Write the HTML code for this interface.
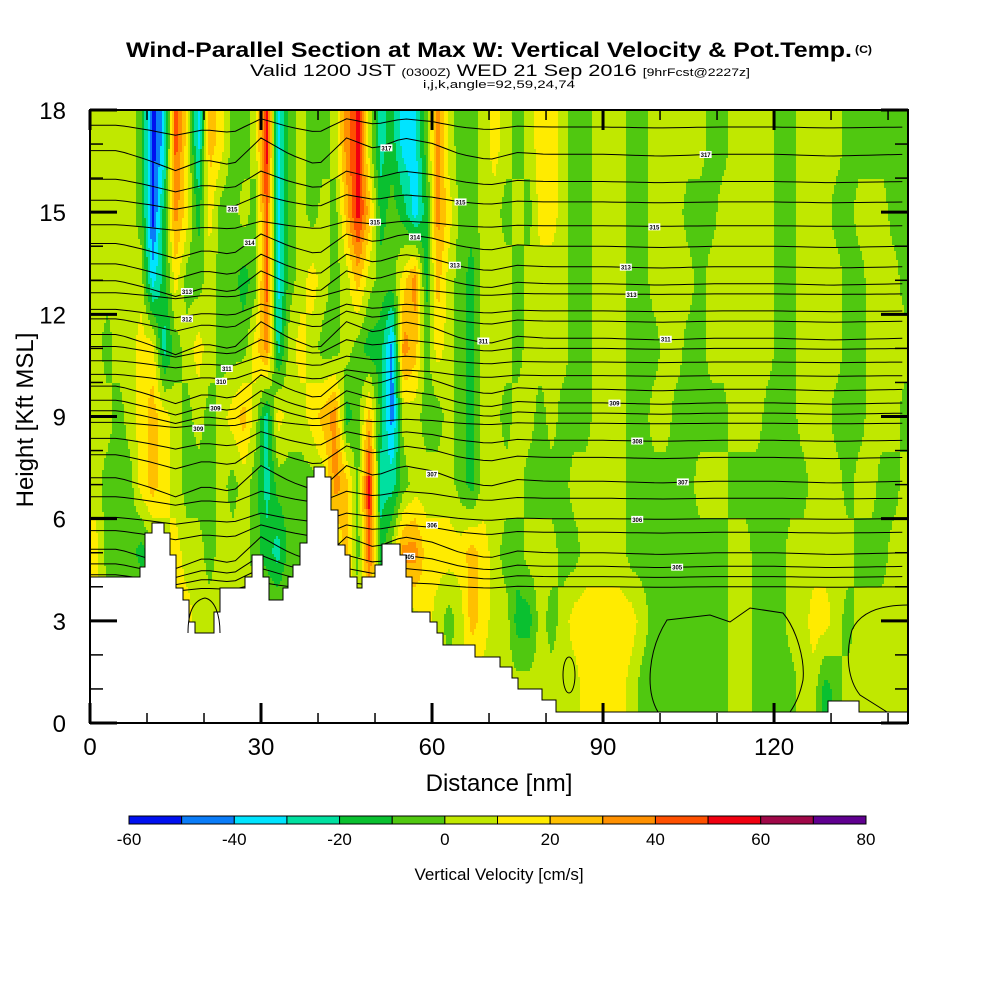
<!DOCTYPE html>
<html><head><meta charset="utf-8"><style>
html,body{margin:0;padding:0;background:#fff;}
svg{display:block;font-family:"Liberation Sans",sans-serif;}
</style></head><body>
<svg id="chart" width="1000" height="1000" viewBox="0 0 1000 1000" xmlns="http://www.w3.org/2000/svg">
<g>
<text x="126" y="57" font-size="21" font-weight="bold" textLength="726" lengthAdjust="spacingAndGlyphs">Wind-Parallel Section at Max W: Vertical Velocity &amp; Pot.Temp.</text>
<text x="855" y="53" font-size="11" font-weight="bold" textLength="17" lengthAdjust="spacingAndGlyphs">(C)</text>
<text x="250" y="76" font-size="17" textLength="500" lengthAdjust="spacingAndGlyphs">Valid 1200 JST <tspan font-size="11">(0300Z)</tspan> WED 21 Sep 2016 <tspan font-size="11">[9hrFcst@2227z]</tspan></text>
<text x="423" y="88" font-size="11" textLength="152" lengthAdjust="spacingAndGlyphs">i,j,k,angle=92,59,24,74</text>
</g>
<g id="heat"></g>
<g id="theta" fill="none" stroke="#000" stroke-width="1"></g>
<path fill="#fff" stroke="#000" stroke-width="1" d="M90,577 L140,577 L140,567 L145,567 L145,533 L152,533 L152,523 L164,523 L164,533 L170,533 L170,555 L176,555 L176,588 L183,588 L183,600 L189,600 L189,622 L195,622 L195,633 L214,633 L214,612 L220,612 L220,588 L245,588 L245,577 L252,577 L252,555 L263,555 L263,577 L269,577 L269,600 L283,600 L283,588 L288,588 L288,577 L293,577 L293,565 L300,565 L300,543 L307,543 L307,477 L314,477 L314,467 L325,467 L325,477 L331,477 L331,510 L338,510 L338,545 L345,545 L345,555 L350,555 L350,577 L357,577 L357,588 L362,588 L362,577 L375,577 L375,565 L382,565 L382,544 L400,544 L400,555 L406,555 L406,577 L412,577 L412,612 L430,612 L430,622 L437,622 L437,633 L443,633 L443,645 L475,645 L475,657 L500,657 L500,667 L512,667 L512,678 L518,678 L518,689 L542,689 L542,700 L556,700 L556,712 L828,712 L828,701 L859,701 L859,712 L908,712 L908,723 L90,723 Z"/>
<g fill="none" stroke="#000" stroke-width="1">
<path d="M658,712 C645,690 648,650 667,620 L710,615 L730,622 L750,608 L783,613 C797,630 805,660 803,680 C800,695 795,705 790,712"/>
<ellipse cx="569" cy="675" rx="6" ry="18"/>
<path d="M908,605 C880,605 860,612 852,630 C845,655 848,680 860,695 L887,712"/>
<path d="M188,633 C188,610 195,600 205,598 C215,600 220,615 220,633"/>
</g>
<g id="axes"></g>
<rect x="90" y="110" width="818" height="613" fill="none" stroke="#000" stroke-width="2"/>
<text x="499" y="791" font-size="24" text-anchor="middle">Distance [nm]</text>
<text x="0" y="0" font-size="24" text-anchor="middle" transform="translate(33,420) rotate(-90)">Height [Kft MSL]</text>
<g id="cbar"></g>
<text x="499" y="880" font-size="17" text-anchor="middle">Vertical Velocity [cm/s]</text>
</svg>
<script>
// ---- data ----
const xDomain = [0, 143.5];          // nm
const yDomain = [0, 18];             // kft
const colNm = 2;                     // column width (nm)
const rowCentersKft = [17, 15, 13, 11, 9, 7, 5, 3, 1];
const w17 = [5,5,5,5,-5,-55,-35,45,15,-35,25,15,-5,-5,5,55,-35,-5,5,-5,-5,5,35,55,5,-25,-15,-35,-35,-5,35,5,-5,-5,5,15,5,-5,5,15,15,5,-5,-5,5,5,5,-5,-5,5,5,5,5,5,-5,-5,5,5,5,5,-5,-5,5,5,5,5,-5,-5,-5,-5,-5,-5];
const w15 = [5,5,5,5,-5,-55,-15,35,15,-15,15,-5,-5,5,-5,45,-35,-5,5,-5,5,-5,25,55,25,-15,-5,-15,-35,-15,35,15,-5,-5,5,5,-5,5,-5,15,15,5,-5,-5,5,5,5,-5,-5,5,5,5,-5,-5,-5,5,5,5,5,5,-5,-5,5,5,5,-5,-5,5,5,5,-5,-5];
const w13 = [5,5,5,5,5,-35,-15,15,-5,-5,5,-5,-5,-15,-5,45,-35,-5,5,15,5,-5,5,25,5,-5,-5,15,35,-15,25,5,-5,-15,5,5,5,-5,5,5,5,5,-5,-5,5,5,5,-5,-5,5,5,5,5,-5,5,5,5,5,5,5,-5,-5,5,5,5,5,-5,-5,5,5,5,-5];
const w11 = [5,-5,5,5,15,15,-25,-5,5,15,5,-5,-5,-5,15,35,-25,5,15,5,-5,-5,5,-5,-15,-15,-45,35,25,-5,15,5,-5,-15,5,5,5,-5,5,5,5,5,-5,-5,5,5,5,-5,-5,-5,5,5,-5,-5,5,5,5,5,5,5,-5,-5,5,5,5,5,-5,-5,5,5,5,5];
const w9  = [5,5,-5,5,15,25,15,5,-5,5,-5,5,15,25,5,-25,15,5,5,15,25,35,-15,-5,25,-15,-45,5,5,-5,-5,5,-5,-15,5,5,-5,5,5,-5,5,-5,-5,-5,5,5,5,-5,-5,5,5,-5,-5,-5,-5,-5,5,5,5,-5,-5,-5,5,5,5,-5,-5,-5,5,5,5,-5];
const w7  = [5,-5,-5,-5,15,25,15,5,-5,-5,-5,5,-5,5,-5,-25,-5,-5,-5,-5,5,35,25,-5,55,-25,-25,-5,5,5,5,5,-5,-15,5,5,5,5,-5,-5,-5,-5,5,5,5,5,5,-5,-5,-5,-5,-5,-5,5,5,5,-5,-5,-5,-5,-5,-5,-5,5,5,5,-5,5,5,-5,-5,5];
const w5  = [15,-5,-5,-5,-15,-5,5,15,5,5,-5,5,5,5,-5,-15,-25,-5,-5,-5,5,5,25,-5,45,-15,5,35,35,15,15,15,15,25,15,5,-5,-5,5,5,5,-5,-5,5,5,5,5,-5,-5,-5,-5,-5,-5,-5,-5,-5,5,5,-5,-5,-5,5,5,5,5,5,5,-5,-5,-5,5,5];
const w3  = [5,5,5,5,5,5,5,15,15,5,5,5,5,5,5,5,5,5,5,5,5,5,5,5,5,5,5,5,5,15,5,-5,5,25,15,5,5,-15,-15,5,-5,5,15,15,15,15,15,15,5,-5,-5,-5,-5,-5,-5,-5,5,5,-5,-5,-5,5,5,15,15,5,-5,5,5,5,5,5];
const w1  = [5,5,5,5,5,5,5,5,5,5,5,5,5,5,5,5,5,5,5,5,5,5,5,5,5,5,5,5,5,5,5,5,5,5,5,5,5,5,5,5,5,5,5,15,15,15,15,5,-5,-5,-5,-5,-5,-5,-5,-5,5,5,-5,-5,-5,-5,5,5,-15,-5,5,5,5,5,5,5];
const rows = [w17, w15, w13, w11, w9, w7, w5, w3, w1];
const binEdges = [-60,-50,-40,-30,-20,-10,0,10,20,30,40,50,60,70,80];
const binColors = ["#0010f0","#0a7cf8","#00e4ff","#00e0a0","#0ac030","#50c810","#c0e800","#ffeb00","#ffc000","#ff9000","#ff5000","#f00010","#a00848","#600090"];
const cbarLabels = [-60,-40,-20,0,20,40,60,80];
const xTicksMajor = [0,30,60,90,120];
const yTicksMajor = [0,3,6,9,12,15,18];
// potential temperature contour levels (kft at east edge) and shape offsets (kft) at nodes every 5 nm
const thetaLevels = [17.5,16.7,15.9,15.3,14.6,14.0,13.4,12.9,12.6,12.1,11.8,11.3,11.0,10.6,10.2,9.8,9.4,9.1,8.8,8.3,7.8,7.1,6.6,6.0,5.6,5.0,4.6,4.3,4.0];
const shapeNodesNm = [0,5,10,15,20,25,30,35,40,45,50,55,60,65,70,75,80,90,100,110,120,130,143.5];
const shapeOffset = [0.1,0.1,-0.15,-0.45,-0.15,-0.3,0.45,0,-0.3,0.45,0.15,0.45,0.3,0,-0.15,0.05,0,0,-0.05,0,0,-0.05,0];
const labelSpots = [[25,16.8,3],[28,15,5],[17,14,7],[17,13,9],[24,11.2,13],[23,10.5,14],[22,9.3,16],[19,8.1,18],[52,16.5,1],[50,14,4],[57,13.6,5],[64,13,6],[69,11.7,11],[65,15.6,3],[108,16.5,1],[99,14.7,4],[94,12.8,6],[95,11.8,8],[101,10.9,11],[92,9.1,16],[96,7.8,19],[104,6.8,21],[96,5.8,23],[103,4.6,26],[56,5.0,26],[60,5.8,24],[60,6.9,21]];

// ---- scales ----
const X0=90, X1=908, Y0=723, Y1=110;
const sx = v => X0 + (v - xDomain[0]) / (xDomain[1]-xDomain[0]) * (X1-X0);
const sy = v => Y0 - (v - yDomain[0]) / (yDomain[1]-yDomain[0]) * (Y0-Y1);
const ix = px => xDomain[0] + (px - X0) / (X1-X0) * (xDomain[1]-xDomain[0]);
const iy = py => yDomain[0] + (Y0 - py) / (Y0-Y1) * (yDomain[1]-yDomain[0]);
const NS = "http://www.w3.org/2000/svg";
function colorFor(v){
  for(let i=0;i<binColors.length;i++){ if(v < binEdges[i+1]) return binColors[i]; }
  return binColors[binColors.length-1];
}
function field(nm,kft){
  const nc = rows[0].length;
  let cf = nm/colNm - 0.5; cf = Math.max(0, Math.min(nc-1, cf));
  const c0 = Math.floor(cf), c1 = Math.min(nc-1, c0+1), tx = cf - c0;
  // rows top->bottom centers decreasing
  let rf = (rowCentersKft[0]-kft)/(rowCentersKft[0]-rowCentersKft[1]);
  rf = Math.max(0, Math.min(rows.length-1, rf));
  const r0 = Math.floor(rf), r1 = Math.min(rows.length-1, r0+1), ty = rf - r0;
  const a = rows[r0][c0]*(1-tx)+rows[r0][c1]*tx;
  const b = rows[r1][c0]*(1-tx)+rows[r1][c1]*tx;
  return a*(1-ty)+b*ty;
}
// ---- heat field ----
const heat = document.getElementById('heat');
const dx=2, dy=3;
for(let py=Y1; py<Y0; py+=dy){
  let runStart=X0, runColor=null;
  const kft = iy(py+dy/2);
  for(let px=X0; px<=X1; px+=dx){
    const c = px<X1 ? colorFor(field(ix(px+dx/2),kft)) : null;
    if(c!==runColor){
      if(runColor){
        const r=document.createElementNS(NS,'rect');
        r.setAttribute('x',runStart); r.setAttribute('y',py);
        r.setAttribute('width',Math.min(px,X1)-runStart); r.setAttribute('height',Math.min(dy,Y0-py));
        r.setAttribute('fill',runColor);
        
        
        heat.appendChild(r);
      }
      runStart=px; runColor=c;
    }
  }
}
// ---- theta contours ----
function offsetAt(nm){
  for(let i=0;i<shapeNodesNm.length-1;i++){
    if(nm<=shapeNodesNm[i+1]){ const t=(nm-shapeNodesNm[i])/(shapeNodesNm[i+1]-shapeNodesNm[i]); return shapeOffset[i]*(1-t)+shapeOffset[i+1]*t; }
  }
  return 0;
}
const theta = document.getElementById('theta');
thetaLevels.forEach((lv,k)=>{
  let d='';
  for(let nm=0; nm<=xDomain[1]; nm+=1.5){
    const amp = 0.6 + 0.6*Math.sin(k*1.3)*0.5;
    d += (d?'L':'M') + sx(nm).toFixed(1) + ',' + sy(lv + offsetAt(nm)*amp*(k%2?1.2:0.9)).toFixed(1);
  }
  const p=document.createElementNS(NS,'path');
  p.setAttribute('d',d);
  
  
  theta.appendChild(p);
});
labelSpots.forEach(s=>{
  const lv=thetaLevels[s[2]];
  const cx=sx(s[0]), cy=sy(lv+offsetAt(s[0])*0.7);
  const r=document.createElementNS(NS,'rect');
  r.setAttribute('x',cx-6); r.setAttribute('y',cy-3.5); r.setAttribute('width',12); r.setAttribute('height',7);
  r.setAttribute('fill','#fff'); r.setAttribute('stroke','none');
  
  
  theta.appendChild(r);
  const t=document.createElementNS(NS,'text');
  t.setAttribute('x',cx); t.setAttribute('y',cy+2.5); t.setAttribute('font-size','6'); t.setAttribute('font-weight','bold');
  t.setAttribute('text-anchor','middle'); t.setAttribute('fill','#000'); t.setAttribute('stroke','none');
  t.textContent=String(300+Math.round(lv));
  
  
  theta.appendChild(t);
});
// ---- axes ----
const axes=document.getElementById('axes');
function line(x1,y1,x2,y2,w,name){
  const l=document.createElementNS(NS,'line');
  l.setAttribute('x1',x1);l.setAttribute('y1',y1);l.setAttribute('x2',x2);l.setAttribute('y2',y2);
  l.setAttribute('stroke','#000');l.setAttribute('stroke-width',w);
  
  
  axes.appendChild(l);
}
function label(x,y,txt,anchor,size,name,parent){
  const t=document.createElementNS(NS,'text');
  t.setAttribute('x',x);t.setAttribute('y',y);t.setAttribute('font-size',size);t.setAttribute('text-anchor',anchor);
  t.textContent=txt;
  
  
  (parent||axes).appendChild(t);
}
for(let v=0; v<=140; v+=10){
  const major = xTicksMajor.includes(v);
  const len = major?20:10;
  line(sx(v),Y0,sx(v),Y0-len,major?3:1.5,'x-tick');
  line(sx(v),Y1,sx(v),Y1+len,major?3:1.5,'x-tick-top');
}
xTicksMajor.forEach(v=>label(sx(v),755,String(v),'middle',24,'x-tick-label'));
for(let v=0; v<=18; v+=1){
  const major = yTicksMajor.includes(v);
  const len = major?27:13;
  line(X0,sy(v),X0+len,sy(v),major?3:1.5,'y-tick');
  line(X1,sy(v),X1-len,sy(v),major?3:1.5,'y-tick-right');
}
yTicksMajor.forEach(v=>label(66,sy(v)+9,String(v),'end',24,'y-tick-label'));
// ---- colorbar ----
const cbar=document.getElementById('cbar');
const CB0=129, CB1=866, CBY=816, CBH=8;
const cbx = v => CB0 + (v-binEdges[0])/(binEdges[binEdges.length-1]-binEdges[0])*(CB1-CB0);
binColors.forEach((c,i)=>{
  const r=document.createElementNS(NS,'rect');
  r.setAttribute('x',cbx(binEdges[i]));r.setAttribute('y',CBY);
  r.setAttribute('width',cbx(binEdges[i+1])-cbx(binEdges[i]));r.setAttribute('height',CBH);
  r.setAttribute('fill',c);r.setAttribute('stroke','#000');r.setAttribute('stroke-width','1');
  
  
  cbar.appendChild(r);
});
cbarLabels.forEach(v=>label(cbx(v),845,String(v),'middle',17,'colorbar-tick-label',cbar));
</script>
</body></html>
